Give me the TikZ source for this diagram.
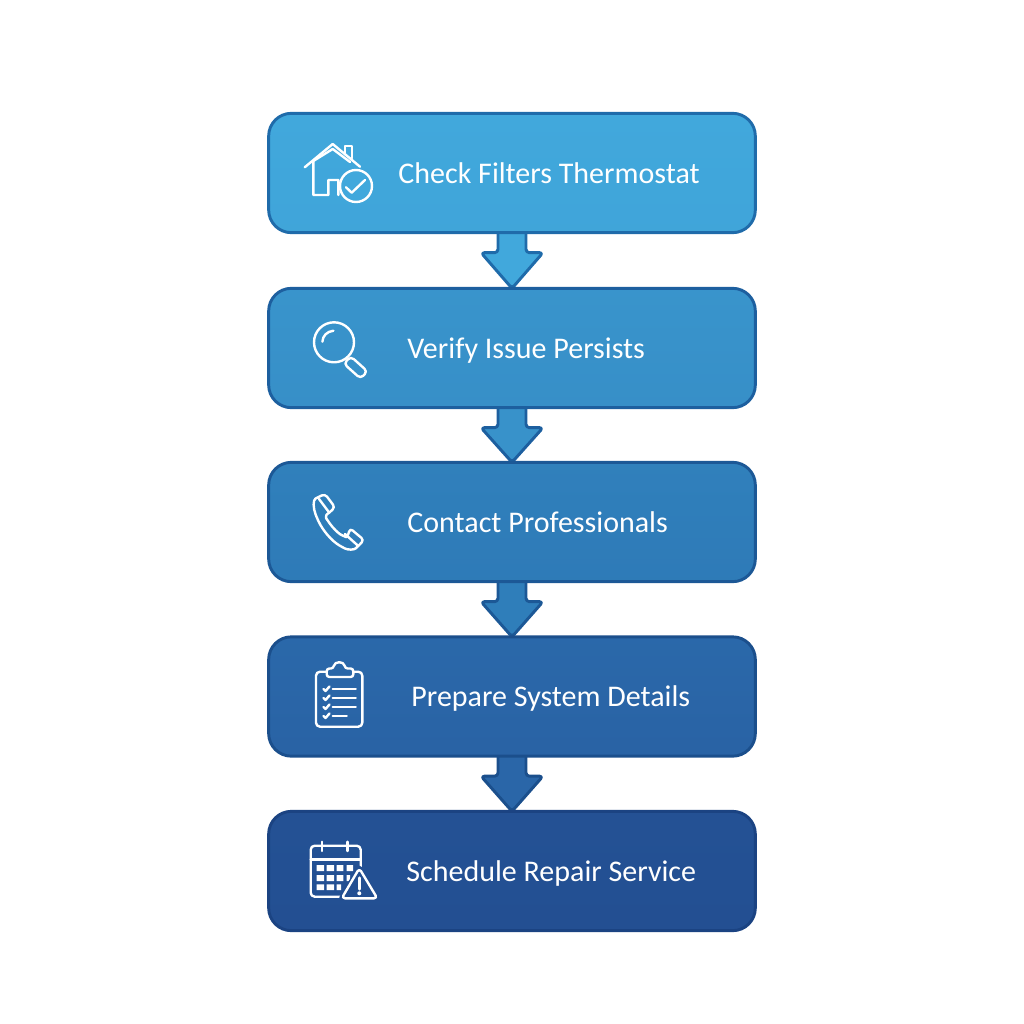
\documentclass[tikz,border=0pt]{standalone}
\usepackage{fontspec}
\setmainfont{Carlito}
\usetikzlibrary{calc,backgrounds}
\definecolor{edgea}{HTML}{1F6BAA}
\definecolor{edgeb}{HTML}{1D5F9F}
\definecolor{edgec}{HTML}{1C5896}
\definecolor{edged}{HTML}{1B4F8C}
\definecolor{edgee}{HTML}{1B4382}
\definecolor{stepa}{HTML}{41A8DC}
\definecolor{stepb}{HTML}{3892CA}
\definecolor{stepc}{HTML}{2F7EBA}
\definecolor{stepd}{HTML}{2A66A8}
\definecolor{stepe}{HTML}{234F92}
\tikzset{
  stepbox/.style={rectangle,minimum width=365pt,minimum height=89.5pt,rounded corners=17pt,line width=2.2pt,outer sep=0pt},
  steplabel/.style={anchor=base west,text=white,inner sep=0pt,font=\fontsize{22.5}{27}\selectfont},
  flowarrow/.style={line width=2.2pt,rounded corners=2.5pt,line join=round},
  iconline/.style={draw=white,line width=1.8pt,line cap=round,line join=round}
}
\begin{document}
\begin{tikzpicture}[x=0.75pt,y=-0.75pt]
  \useasboundingbox (0,0) rectangle (1024,1024);

  \node[stepbox,draw=edgea,top color=stepa,bottom color=stepa!85!stepb] (box1) at (512,173) {};
  \node[stepbox,draw=edgeb,top color=stepb!90!stepa,bottom color=stepb!85!stepc] (box2) at (512,348) {};
  \node[stepbox,draw=edgec,top color=stepc!90!stepb,bottom color=stepc!85!stepd] (box3) at (512,522) {};
  \node[stepbox,draw=edged,top color=stepd!90!stepc,bottom color=stepd!85!stepe] (box4) at (512,696.5) {};
  \node[stepbox,draw=edgee,top color=stepe!90!stepd,bottom color=stepe] (box5) at (512,871) {};

  \node[steplabel] (lab1) at ($(box1.west)+(129.5,10)$) {Check Filters Thermostat};
  \node[steplabel] (lab2) at ($(box2.west)+(138.5,10)$) {Verify Issue Persists};
  \node[steplabel] (lab3) at ($(box3.west)+(138.5,10)$) {Contact Professionals};
  \node[steplabel] (lab4) at ($(box4.west)+(142.5,10)$) {Prepare System Details};
  \node[steplabel] (lab5) at ($(box5.west)+(137.5,10)$) {Schedule Repair Service};

  \begin{scope}[on background layer]
    \draw[flowarrow,draw=edgea,fill=stepa] ($(box1.south)+(-14,-3)$) -- ($(box1.south)+(-14,20)$) -- ($(box1.south)+(-31,20)$) -- (box2.north) -- ($(box1.south)+(31,20)$) -- ($(box1.south)+(14,20)$) -- ($(box1.south)+(14,-3)$);
    \draw[flowarrow,draw=edgeb,fill=stepb] ($(box2.south)+(-14,-3)$) -- ($(box2.south)+(-14,20)$) -- ($(box2.south)+(-31,20)$) -- (box3.north) -- ($(box2.south)+(31,20)$) -- ($(box2.south)+(14,20)$) -- ($(box2.south)+(14,-3)$);
    \draw[flowarrow,draw=edgec,fill=stepc] ($(box3.south)+(-14,-3)$) -- ($(box3.south)+(-14,20)$) -- ($(box3.south)+(-31,20)$) -- (box4.north) -- ($(box3.south)+(31,20)$) -- ($(box3.south)+(14,20)$) -- ($(box3.south)+(14,-3)$);
    \draw[flowarrow,draw=edged,fill=stepd] ($(box4.south)+(-14,-3)$) -- ($(box4.south)+(-14,20)$) -- ($(box4.south)+(-31,20)$) -- (box5.north) -- ($(box4.south)+(31,20)$) -- ($(box4.south)+(14,20)$) -- ($(box4.south)+(14,-3)$);
  \end{scope}

  % house
  \draw[iconline] (304.7,167.3) -- (332.7,144) -- (360,166.7);
  \draw[iconline] (345,153) -- (345,145.7) -- (351.7,145.7) -- (351.7,158.3);
  \draw[iconline] (338.3,195) -- (338.3,180) -- (328.3,180) -- (328.3,195) -- (313.3,195) -- (313.3,161) -- (332.7,149) -- (350,162);
  \draw[iconline,fill=stepa] (356,186) circle (16);
  \draw[iconline] (346,187.3) -- (351.7,192.7) -- (365,180);

  % magnifier
  \draw[iconline] (334,342.3) circle (20);
  \draw[iconline] (322.4,341.7) .. controls (322.7,336) and (326.7,331.5) .. (333.4,330.7);
  \draw[iconline,rounded corners=3pt] (350.8,356.4) -- (367.5,371.4) -- (360.5,378.6) -- (343.8,363.6) -- cycle;

  % phone
  \draw[iconline,rounded corners=2.5pt] (325,494) -- (335,507.3) -- (329.3,512.7) .. controls (326,515) and (326,518) .. (328,521) .. controls (333,528) and (338,533) .. (343.3,536) .. controls (346,537) and (348,536) .. (350,528.3) -- (364,540) -- (358.3,546) .. controls (354,550) and (348,550) .. (342,547) .. controls (332,541) and (323,531) .. (317,518) .. controls (313,508) and (313,500) .. (318.3,497) -- cycle;
  \draw[iconline] (319,499) -- (329.3,512.7);
  \draw[iconline] (345,534) -- (358.3,546);

  % clipboard
  \draw[iconline,rounded corners=3pt] (326.7,671.7) -- (316,671.7) -- (316,726.7) -- (362.3,726.7) -- (362.3,671.7) -- (353.3,671.7);
  \draw[iconline,rounded corners=2pt] (326.7,677) -- (326.7,668.5) -- (333.5,668.5) .. controls (334.5,661) and (344,661) .. (345,668.5) -- (353.3,668.5) -- (353.3,677) -- cycle;
  \draw[iconline] (323.5,689) -- (325.5,691) -- (329.5,686.5);
  \draw[iconline] (323.5,698) -- (325.5,700) -- (329.5,695.5);
  \draw[iconline] (323.5,707) -- (325.5,709) -- (329.5,704.5);
  \draw[iconline] (323.5,716) -- (325.5,718) -- (329.5,713.5);
  \draw[iconline] (332.7,689) -- (355.7,689);
  \draw[iconline] (332.7,697.7) -- (355.7,697.7);
  \draw[iconline] (332.7,706.7) -- (355.7,706.7);
  \draw[iconline] (332.7,715.7) -- (346.7,715.7);

  % calendar
  \draw[iconline,rounded corners=3pt] (310.7,845.7) rectangle (360.7,896.7);
  \draw[iconline] (310.7,859.3) -- (360.7,859.3);
  \draw[iconline] (321.7,841.7) -- (321.7,851);
  \draw[iconline] (347.3,841.7) -- (347.3,851);
  \fill[white] (316.7,865) rectangle (324,871) (326.7,865) rectangle (334,871) (336.7,865) rectangle (343.3,871) (346.7,865) rectangle (353,871);
  \fill[white] (316.7,875) rectangle (324,881) (326.7,875) rectangle (334,881) (336.7,875) rectangle (343.3,881) (346.7,875) rectangle (350,881);
  \fill[white] (316.7,884.3) rectangle (324,890) (326.7,884.3) rectangle (334,890) (336.7,884.3) rectangle (341,890);
  \draw[draw=stepe,fill=stepe,line width=4pt,line join=round] (359.3,868.3) -- (341.7,898.3) -- (377.3,898.3) -- cycle;
  \draw[iconline,rounded corners=2.5pt] (359.3,868.3) -- (341.7,898.3) -- (377.3,898.3) -- cycle;
  \draw[iconline,line width=2.6pt] (359.3,878) -- (359.3,889);
  \fill[white] (359.3,893.3) circle (2);
\end{tikzpicture}
\end{document}
